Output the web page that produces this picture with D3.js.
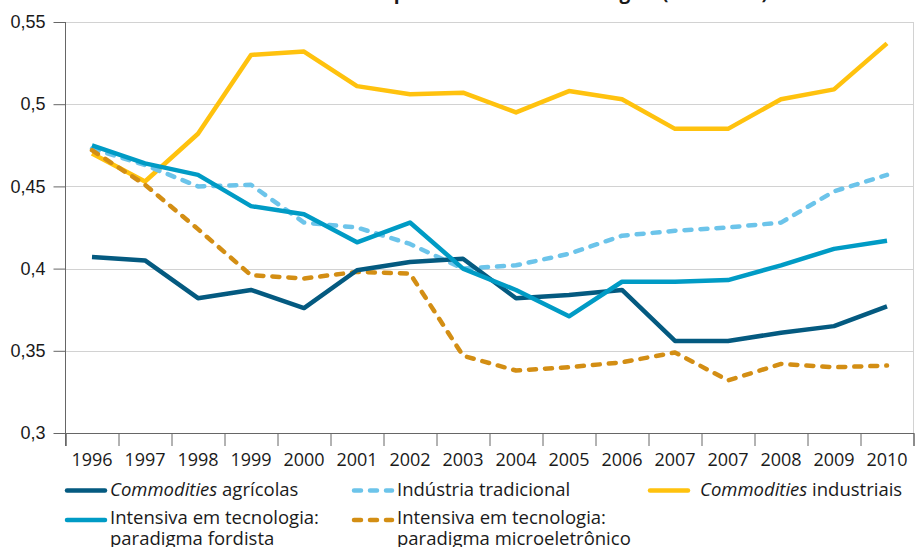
<!DOCTYPE html>
<html lang="pt-BR">
<head>
<meta charset="utf-8">
<script src="https://cdn.jsdelivr.net/npm/d3@7"></script>
<style>
  html, body { margin: 0; padding: 0; background: #fff; }
  svg { display: block; font-family: "Open Sans", "Noto Sans", sans-serif; }
</style>
</head>
<body>
<svg id="chart" width="915" height="547"></svg>
<script>
// Years along the x axis (2007 appears twice in the source series)
const years = ["1996","1997","1998","1999","2000","2001","2002","2003",
               "2004","2005","2006","2007","2007","2008","2009","2010"];

const agricolas   = [0.407,0.405,0.382,0.387,0.376,0.399,0.404,0.406,
                     0.382,0.384,0.387,0.356,0.356,0.361,0.365,0.377];
const tradicional = [0.473,0.463,0.450,0.451,0.428,0.425,0.415,0.400,
                     0.402,0.409,0.420,0.423,0.425,0.428,0.447,0.457];
const industriais = [0.470,0.453,0.482,0.530,0.532,0.511,0.506,0.507,
                     0.495,0.508,0.503,0.485,0.485,0.503,0.509,0.537];
const fordista    = [0.475,0.464,0.457,0.438,0.433,0.416,0.428,0.400,
                     0.387,0.371,0.392,0.392,0.393,0.402,0.412,0.417];
const microeletr  = [0.472,0.451,0.424,0.396,0.394,0.398,0.397,0.347,
                     0.338,0.340,0.343,0.349,0.332,0.342,0.340,0.341];

const yTicks = [0.3, 0.35, 0.4, 0.45, 0.5, 0.55];

const series = [
  { name: "industriais", values: industriais, color: "#FFC20E", dash: null },
  { name: "tradicional", values: tradicional, color: "#6CC4EA", dash: "7,9" },
  { name: "micro",       values: microeletr,  color: "#D38E14", dash: "7,9" },
  { name: "agricolas",   values: agricolas,   color: "#045A80", dash: null },
  { name: "fordista",    values: fordista,    color: "#009BC5", dash: null }
];

const svg = d3.select("#chart");
const plotL = 65.5, plotR = 913.5, plotT = 22, plotB = 433;
const ink = "#1a1a1a";

const ptBR = d3.formatLocale({ decimal: ",", thousands: ".", grouping: [3], currency: ["R$", ""] });
const fmt = ptBR.format("~g");

// Band edges along x as a linear scale 0..n; points sit at the middle of each band
const x = d3.scaleLinear().domain([0, years.length]).range([plotL, plotR]);
const y = d3.scaleLinear().domain([0.3, 0.55]).range([plotB, plotT]);

// Title (sits mostly above the visible area)
svg.append("text")
  .attr("x", 768).attr("y", -1)
  .attr("text-anchor", "end")
  .attr("font-size", 19).attr("font-weight", 700).attr("fill", ink)
  .text("Índice médio por intensidade tecnológica (1996-2010)");

// Horizontal grid
svg.append("g").selectAll("line").data(yTicks).join("line")
  .attr("x1", plotL).attr("x2", plotR)
  .attr("y1", d => Math.round(y(d)) + 0.5).attr("y2", d => Math.round(y(d)) + 0.5)
  .attr("stroke", "#d2d2d2").attr("stroke-width", 1);

// Right frame edge
svg.append("line")
  .attr("x1", plotR).attr("x2", plotR).attr("y1", plotT).attr("y2", plotB)
  .attr("stroke", "#d2d2d2");

// Y axis
const yAxis = svg.append("g")
  .attr("transform", `translate(${plotL},0)`)
  .call(d3.axisLeft(y).tickValues(yTicks).tickFormat(fmt).tickSize(12).tickPadding(8));
yAxis.select(".domain").remove();
yAxis.selectAll(".tick line").attr("stroke", "#666");
yAxis.selectAll(".tick text").attr("font-size", 18).attr("fill", ink).attr("font-family", null);
yAxis.append("line").attr("x1", 0).attr("x2", 0).attr("y1", plotT).attr("y2", plotB + 13).attr("stroke", "#666");

// X axis: ticks at band edges, labels at band centres
const xAxis = svg.append("g")
  .attr("transform", `translate(0,${plotB})`)
  .call(d3.axisBottom(x).tickValues(d3.range(0, years.length + 1)).tickSize(13).tickFormat(""));
xAxis.select(".domain").attr("stroke", "#666");
xAxis.selectAll(".tick line").attr("stroke", "#666");

svg.append("g").selectAll("text").data(years).join("text")
  .attr("x", (d, i) => x(i + 0.5))
  .attr("y", 466)
  .attr("text-anchor", "middle")
  .attr("font-size", 18).attr("fill", ink)
  .text(d => d);

// Lines
const line = d3.line().x((d, i) => x(i + 0.5)).y(d => y(d));
svg.append("g").selectAll("path").data(series).join("path")
  .attr("d", d => line(d.values))
  .attr("fill", "none")
  .attr("stroke", d => d.color)
  .attr("stroke-width", 4.5)
  .attr("stroke-linejoin", "round")
  .attr("stroke-linecap", d => d.dash ? "round" : "butt")
  .attr("stroke-dasharray", d => d.dash);

// Legend
const legendItems = [
  { key: "agricolas",   col: 0, row: 0, lines: [["Commodities", " agrícolas"]] },
  { key: "tradicional", col: 1, row: 0, lines: [[null, "Indústria tradicional"]] },
  { key: "industriais", col: 2, row: 0, lines: [["Commodities", " industriais"]] },
  { key: "fordista",    col: 0, row: 1, lines: [[null, "Intensiva em tecnologia:"], [null, "paradigma fordista"]] },
  { key: "micro",       col: 1, row: 1, lines: [[null, "Intensiva em tecnologia:"], [null, "paradigma microeletrônico"]] }
];
const colX = [65, 352, 648];
const textX = [110, 397, 700];
const rowY = [490.5, 520];
const baseOff = [5, 4];

const leg = svg.append("g");
legendItems.forEach(it => {
  const s = series.find(d => d.name === it.key);
  const ly = rowY[it.row];
  leg.append("line")
    .attr("x1", colX[it.col] + 2).attr("x2", colX[it.col] + 40)
    .attr("y1", ly).attr("y2", ly)
    .attr("stroke", s.color).attr("stroke-width", 4.5)
    .attr("stroke-linecap", "round")
    .attr("stroke-dasharray", s.dash ? "7,9" : null);
  it.lines.forEach((ln, k) => {
    const t = leg.append("text")
      .attr("x", textX[it.col])
      .attr("y", ly + baseOff[it.row] + k * 21)
      .attr("font-size", 18.5).attr("fill", ink);
    if (ln[0]) t.append("tspan").attr("font-style", "italic").text(ln[0]);
    t.append("tspan").text(ln[1]);
  });
});
</script>
</body>
</html>
